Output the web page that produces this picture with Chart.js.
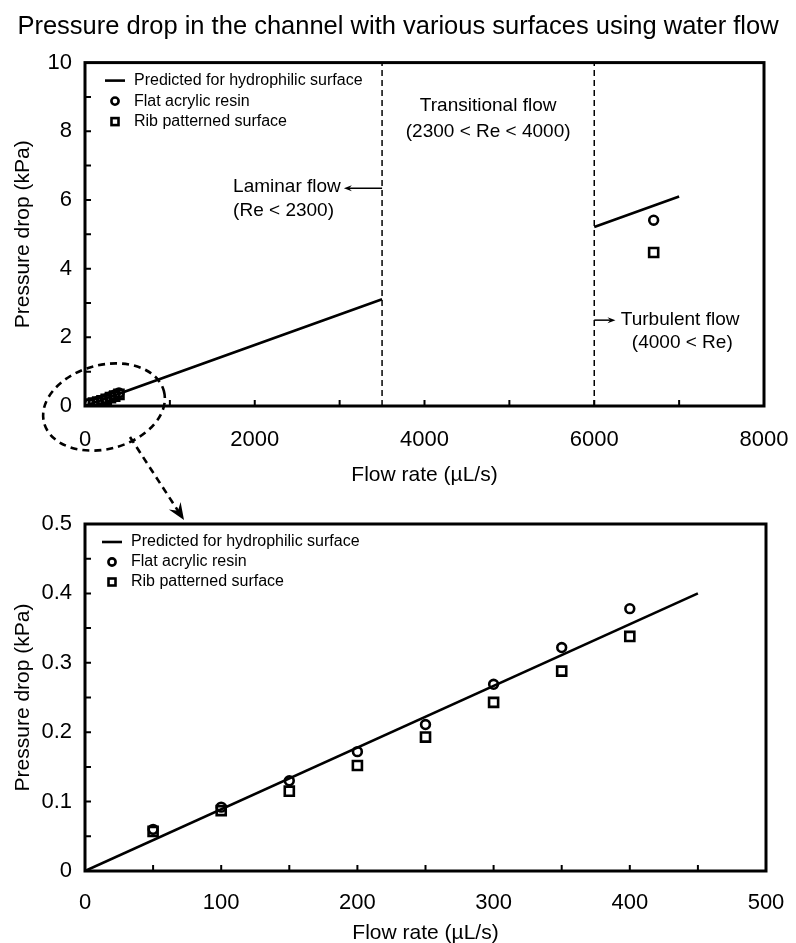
<!DOCTYPE html>
<html>
<head>
<meta charset="utf-8">
<script src="https://cdn.jsdelivr.net/npm/chart.js@4.4.1/dist/chart.umd.min.js"></script>
<style>
  html, body { margin: 0; padding: 0; background: #fff; }
  #wrap { position: relative; width: 796px; height: 943px; }
  #bottom-box { position: absolute; left: 0; top: 490px; width: 796px; height: 453px; }
  #top-box { position: absolute; left: 0; top: 0; width: 796px; height: 530px; }
</style>
</head>
<body>
<div id="wrap">
  <div id="bottom-box"><canvas id="zoom-chart"></canvas></div>
  <div id="top-box"><canvas id="overview-chart"></canvas></div>
</div>
<script>
// measured flow rates (uL/s) and pressure drops (kPa)
const zoomFlow = [50, 100, 150, 200, 250, 300, 350, 400];
const flatResin = [0.060, 0.092, 0.130, 0.172, 0.211, 0.269, 0.322, 0.378];
const ribSurface = [0.057, 0.087, 0.115, 0.152, 0.193, 0.243, 0.288, 0.338];
const turbulentFlow = [6700];
const flatResinTurbulent = [5.41];
const ribSurfaceTurbulent = [4.47];

// predicted curve for hydrophilic surface
const laminarFlow = [0, 3500];
const laminarPressure = [0, 3.11];
const turbulentLineFlow = [6000, 7000];
const turbulentLinePressure = [5.21, 6.10];
const zoomLineFlow = [0, 450];
const zoomLinePressure = [0, 0.40];

// regime boundaries on the flow axis
const regimeBounds = [3500, 6000];

const FONT = '"Liberation Sans", Arial, sans-serif';
Chart.defaults.font.family = FONT;
Chart.defaults.color = '#000';

const pts = (xs, ys) => xs.map((v, i) => ({ x: v, y: ys[i] }));

const frameTicks = {
  id: 'frameTicks',
  afterDraw(chart, args, opts) {
    const { ctx, chartArea: a, scales: { x, y } } = chart;
    ctx.save();
    ctx.strokeStyle = '#000';
    ctx.lineWidth = 2;
    ctx.beginPath();
    const nx = Math.round((x.max - x.min) / opts.xStep);
    for (let i = 1; i < nx; i++) {
      const px = x.getPixelForValue(x.min + i * opts.xStep);
      ctx.moveTo(px, a.bottom);
      ctx.lineTo(px, a.bottom - 6);
    }
    const ny = Math.round((y.max - y.min) / opts.yStep);
    for (let i = 1; i < ny; i++) {
      const py = y.getPixelForValue(y.min + i * opts.yStep);
      ctx.moveTo(a.left, py);
      ctx.lineTo(a.left + 6, py);
    }
    ctx.stroke();
    ctx.lineWidth = 3;
    ctx.strokeRect(a.left, a.top, a.right - a.left, a.bottom - a.top);
    ctx.restore();
  }
};

const boxLegend = {
  id: 'boxLegend',
  afterDraw(chart, args, opts) {
    const { ctx, chartArea: a } = chart;
    ctx.save();
    ctx.font = '16px ' + FONT;
    ctx.textBaseline = 'middle';
    ctx.fillStyle = '#000';
    ctx.strokeStyle = '#000';
    chart.data.datasets.filter(d => !d.noLegend).forEach((d, i) => {
      const cy = a.top + opts.top + i * opts.gap;
      const sx = a.left + opts.symbolX;
      ctx.beginPath();
      ctx.lineWidth = 2.6;
      if (d.showLine) {
        ctx.moveTo(sx - 10, cy);
        ctx.lineTo(sx + 10, cy);
        ctx.stroke();
      } else if (d.pointStyle === 'rect') {
        ctx.strokeRect(sx - 3.5, cy - 3.5, 7, 7);
      } else {
        ctx.arc(sx, cy, 3.6, 0, Math.PI * 2);
        ctx.stroke();
      }
      ctx.fillText(d.label, a.left + opts.textX, cy);
    });
    ctx.restore();
  }
};

function arrow(ctx, x0, y0, x1, y1, len, half) {
  const ang = Math.atan2(y1 - y0, x1 - x0);
  ctx.beginPath();
  ctx.moveTo(x0, y0);
  ctx.lineTo(x1 - Math.cos(ang) * len * 0.6, y1 - Math.sin(ang) * len * 0.6);
  ctx.stroke();
  ctx.save();
  ctx.setLineDash([]);
  ctx.translate(x1, y1);
  ctx.rotate(ang);
  ctx.beginPath();
  ctx.moveTo(0, 0);
  ctx.lineTo(-len, -half);
  ctx.lineTo(-len * 0.65, 0);
  ctx.lineTo(-len, half);
  ctx.closePath();
  ctx.fill();
  ctx.restore();
}

const flowRegimes = {
  id: 'flowRegimes',
  afterDraw(chart) {
    const { ctx, scales: { x, y } } = chart;
    ctx.save();
    ctx.fillStyle = '#000';
    ctx.strokeStyle = '#000';
    ctx.font = '19px ' + FONT;
    ctx.textBaseline = 'middle';

    // laminar
    let ty = y.getPixelForValue(6.37);
    ctx.textAlign = 'left';
    ctx.fillText('Laminar flow', x.getPixelForValue(1745), ty);
    ctx.fillText('(Re < 2300)', x.getPixelForValue(1745), ty + 24);
    ctx.lineWidth = 1.5;
    arrow(ctx, x.getPixelForValue(regimeBounds[0]), ty + 1, x.getPixelForValue(3050), ty + 1, 8, 3);

    // transitional
    ty = y.getPixelForValue(8.75);
    ctx.textAlign = 'center';
    const mid = x.getPixelForValue((regimeBounds[0] + regimeBounds[1]) / 2);
    ctx.fillText('Transitional flow', mid, ty);
    ctx.fillText('(2300 < Re < 4000)', mid, ty + 26);

    // turbulent
    ty = y.getPixelForValue(2.5);
    ctx.textAlign = 'left';
    arrow(ctx, x.getPixelForValue(regimeBounds[1]), ty, x.getPixelForValue(6250), ty, 8, 3);
    ctx.fillText('Turbulent flow', x.getPixelForValue(6313), ty);
    ctx.fillText('(4000 < Re)', x.getPixelForValue(6443), ty + 23);

    // dashed zoom ellipse around the origin and pointer to the lower chart
    const ox = x.getPixelForValue(0), oy = y.getPixelForValue(0);
    ctx.lineWidth = 2.6;
    ctx.setLineDash([7, 5]);
    ctx.beginPath();
    ctx.ellipse(ox + 19, oy + 1, 62, 42, -0.26, 0, Math.PI * 2);
    ctx.stroke();
    arrow(ctx, ox + 45, oy + 31, ox + 99, oy + 114, 17, 7);
    ctx.restore();
  }
};

const tickFont = { size: 22 };
const axisFont = { size: 21 };

function scales(opt) {
  return {
    x: {
      type: 'linear', min: opt.xMin, max: opt.xMax,
      grid: { display: false, drawTicks: false }, border: { display: false },
      ticks: { stepSize: opt.xLabelStep, font: tickFont, padding: opt.xPad, color: '#000',
               maxRotation: 0, callback: v => String(v) },
      title: { display: true, text: 'Flow rate (\u00b5L/s)', font: axisFont, color: '#000',
               padding: { top: 0, bottom: opt.xTitlePad } },
      afterFit: s => { s.height = opt.xHeight; s.paddingLeft = 0; s.paddingRight = 0; }
    },
    y: {
      type: 'linear', min: opt.yMin, max: opt.yMax,
      grid: { display: false, drawTicks: false }, border: { display: false },
      ticks: { stepSize: opt.yLabelStep, font: tickFont, padding: 13, color: '#000',
               callback: v => String(Math.round(v * 100) / 100) },
      title: { display: true, text: 'Pressure drop (kPa)', font: axisFont, color: '#000',
               padding: { top: 10.4, bottom: 0 } },
      afterFit: s => { s.width = 85; s.paddingTop = 0; s.paddingBottom = 0; }
    },
    // empty right-hand margin so the title can use the full canvas width
    margin: {
      type: 'linear', position: 'right',
      grid: { display: false, drawTicks: false }, border: { display: false },
      ticks: { display: false },
      afterFit: s => { s.width = opt.rightMargin; s.paddingTop = 0; s.paddingBottom = 0; }
    }
  };
}

const markerStyle = {
  borderColor: '#000', backgroundColor: 'rgba(0,0,0,0)', borderWidth: 2.6, showLine: false
};

// overview chart
new Chart(document.getElementById('overview-chart'), {
  type: 'scatter',
  data: {
    datasets: [
      {
        label: 'Predicted for hydrophilic surface',
        data: pts(laminarFlow, laminarPressure)
          .concat([{ x: (regimeBounds[0] + regimeBounds[1]) / 2, y: null }])
          .concat(pts(turbulentLineFlow, turbulentLinePressure)),
        showLine: true, spanGaps: false, borderColor: '#000', borderWidth: 2.6, pointRadius: 0
      },
      Object.assign({
        label: 'Flat acrylic resin',
        data: pts(zoomFlow, flatResin).concat(pts(turbulentFlow, flatResinTurbulent)),
        pointStyle: 'circle', pointRadius: 4.4
      }, markerStyle),
      Object.assign({
        label: 'Rib patterned surface',
        data: pts(zoomFlow, ribSurface).concat(pts(turbulentFlow, ribSurfaceTurbulent)),
        pointStyle: 'rect', pointRadius: 6.4
      }, markerStyle),
      ...regimeBounds.map(b => ({
        label: 'bound', noLegend: true,
        data: [{ x: b, y: 0 }, { x: b, y: 10 }],
        showLine: true, borderColor: '#000', borderWidth: 1.5, borderDash: [6, 4], pointRadius: 0
      }))
    ]
  },
  options: {
    responsive: true, maintainAspectRatio: false, animation: false,
    layout: { padding: { left: 0, right: 0, top: 0, bottom: 34 } },
    plugins: {
      legend: { display: false }, tooltip: { enabled: false },
      title: {
        display: true, text: 'Pressure drop in the channel with various surfaces using water flow',
        font: { size: 25.5, weight: 'normal' }, color: '#000', padding: { top: 12, bottom: 20 }
      },
      frameTicks: { xStep: 1000, yStep: 1 },
      boxLegend: { top: 18, gap: 20.5, symbolX: 30, textX: 49 }
    },
    scales: scales({ xMin: 0, xMax: 8000, xLabelStep: 2000, xPad: 21, xTitlePad: 8, xHeight: 90,
                     yMin: 0, yMax: 10, yLabelStep: 2, rightMargin: 32 })
  },
  plugins: [frameTicks, boxLegend, flowRegimes]
});

// zoomed chart of the low flow range
new Chart(document.getElementById('zoom-chart'), {
  type: 'scatter',
  data: {
    datasets: [
      {
        label: 'Predicted for hydrophilic surface',
        data: pts(zoomLineFlow, zoomLinePressure),
        showLine: true, borderColor: '#000', borderWidth: 2.6, pointRadius: 0
      },
      Object.assign({
        label: 'Flat acrylic resin', data: pts(zoomFlow, flatResin),
        pointStyle: 'circle', pointRadius: 4.4
      }, markerStyle),
      Object.assign({
        label: 'Rib patterned surface', data: pts(zoomFlow, ribSurface),
        pointStyle: 'rect', pointRadius: 6.4
      }, markerStyle)
    ]
  },
  options: {
    responsive: true, maintainAspectRatio: false, animation: false,
    layout: { padding: { left: 0, right: 0, top: 34, bottom: 0 } },
    plugins: {
      legend: { display: false }, tooltip: { enabled: false },
      frameTicks: { xStep: 50, yStep: 0.05 },
      boxLegend: { top: 18, gap: 20, symbolX: 27, textX: 46 }
    },
    scales: scales({ xMin: 0, xMax: 500, xLabelStep: 100, xPad: 19, xTitlePad: -2.5, xHeight: 72,
                     yMin: 0, yMax: 0.5, yLabelStep: 0.1, rightMargin: 30 })
  },
  plugins: [frameTicks, boxLegend]
});
</script>
</body>
</html>
